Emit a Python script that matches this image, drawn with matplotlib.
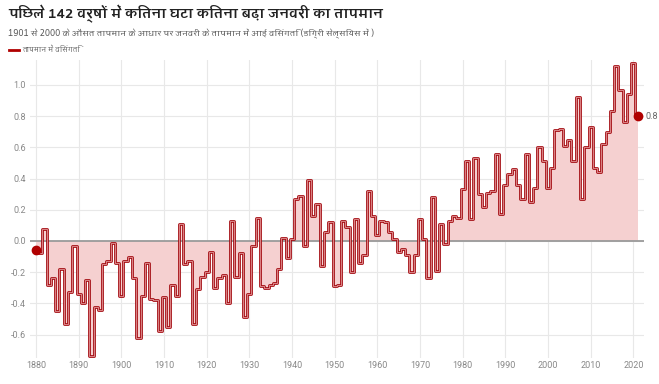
import numpy as np
import matplotlib
matplotlib.use("Agg")
import matplotlib.pyplot as plt
from matplotlib.lines import Line2D

# जनवरी तापमान विसंगति (1901-2000 औसत के सापेक्ष), 1880 से 2021
years = list(range(1880, 2022))
anomaly = [
    -0.06, -0.08, 0.08, -0.28, -0.24, -0.45, -0.18, -0.53, -0.33, -0.03,   # 1880s
    -0.34, -0.40, -0.25, -0.74, -0.42, -0.44, -0.15, -0.13, -0.01, -0.14,  # 1890s
    -0.35, -0.13, -0.10, -0.24, -0.62, -0.35, -0.14, -0.37, -0.38, -0.58,  # 1900s
    -0.36, -0.55, -0.28, -0.35, 0.11, -0.15, -0.13, -0.53, -0.31, -0.23,   # 1910s
    -0.20, -0.07, -0.30, -0.24, -0.22, -0.40, 0.13, -0.23, -0.08, -0.49,   # 1920s
    -0.34, -0.03, 0.15, -0.29, -0.30, -0.28, -0.27, -0.18, 0.02, -0.11,    # 1930s
    0.01, 0.27, 0.29, -0.03, 0.39, 0.16, 0.24, -0.16, 0.06, 0.12,          # 1940s
    -0.29, -0.28, 0.13, 0.09, -0.20, 0.14, -0.14, -0.09, 0.32, 0.16,       # 1950s
    0.04, 0.13, 0.12, 0.06, 0.01, -0.07, -0.05, -0.09, -0.20, -0.09,       # 1960s
    0.14, 0.01, -0.24, 0.28, -0.19, 0.11, -0.02, 0.13, 0.16, 0.15,         # 1970s
    0.33, 0.51, 0.14, 0.53, 0.30, 0.22, 0.31, 0.32, 0.56, 0.17,            # 1980s
    0.36, 0.43, 0.46, 0.36, 0.27, 0.56, 0.25, 0.34, 0.60, 0.51,            # 1990s
    0.34, 0.47, 0.71, 0.72, 0.61, 0.65, 0.51, 0.92, 0.27, 0.60,            # 2000s
    0.73, 0.47, 0.44, 0.62, 0.70, 0.83, 1.12, 0.97, 0.76, 0.94,            # 2010s
    1.14, 0.80,                                                            # 2020s
]
x_ticks = list(range(1880, 2021, 10))
y_ticks = [-0.6, -0.4, -0.2, 0.0, 0.2, 0.4, 0.6, 0.8, 1.0]

title = "पिछले 142 वर्षों में कितना घटा कितना बढ़ा जनवरी का तापमान"
subtitle = "1901 से 2000 के औसत तापमान के आधार पर जनवरी के तापमान में आई विसंगति (डिग्री सेल्सियस में )"
legend_label = "तापमान में विसंगति"

hindi = ["Amiko", "FreeSans", "DejaVu Sans"]
plt.rcParams["font.family"] = ["Roboto", "DejaVu Sans"]

red = "#a50f15"
fill_col = "#f5d0d0"
grey = "#888888"

fig = plt.figure(figsize=(6.59, 3.84), dpi=100)
ax = fig.add_axes([30 / 659, 26 / 384, 614 / 659, 298 / 384])

yrs = np.array(years)
vals = np.array(anomaly)

ax.fill_between(yrs, vals, 0, step="mid", color=fill_col, lw=0, zorder=1)
ax.axhline(0, color="#9a9a9a", lw=1.3, zorder=2)
ax.step(yrs, vals, where="mid", color=red, lw=2.0, zorder=3)
ax.step(yrs, vals, where="mid", color="#f0b4b4", lw=0.5, zorder=4)

# शुरुआत और अंत के बिंदु
ax.plot([yrs[0], yrs[-1]], [vals[0], vals[-1]], "o", color="#b00000",
        ms=6, zorder=5, clip_on=False)
ax.annotate(f"{vals[-1]:.1f}", (yrs[-1], vals[-1]), xytext=(6, 0),
            textcoords="offset points", va="center", ha="left",
            fontsize=6.5, color="#666666", annotation_clip=False)

ax.set_xlim(1878.6, 2022.5)
ax.set_ylim(-0.75, 1.16)
ax.set_xticks(x_ticks)
ax.set_yticks(y_ticks)
ax.set_yticklabels([f"{v:.1f}" for v in y_ticks])
ax.tick_params(length=0, labelsize=6.5, labelcolor=grey, pad=3)
ax.tick_params(axis="x", pad=2)
ax.grid(color="#e8e8e8", lw=0.8, zorder=0)
ax.set_axisbelow(True)
for s in ax.spines.values():
    s.set_visible(False)

# शीर्षक, उपशीर्षक और लेजेंड
t1 = fig.text(8 / 659, 1 - 14 / 384, title, fontsize=10, fontweight="bold",
              family=hindi, color="#222222", va="center", ha="left")
t2 = fig.text(8 / 659, 1 - 34 / 384, subtitle, fontsize=7, family=hindi,
              color="#555555", va="center", ha="left")
fig.add_artist(Line2D([9 / 659, 19 / 659], [1 - 50 / 384, 1 - 50 / 384],
                      color="#b00000", lw=2, transform=fig.transFigure))
t3 = fig.text(22 / 659, 1 - 50 / 384, legend_label, fontsize=5.5,
              family=hindi, color="#666666", va="center", ha="left")

# टेक्स्ट की चौड़ाई संदर्भ चित्र के बराबर करें
renderer = fig.canvas.get_renderer()
for t, target in [(t1, 375), (t2, 365), (t3, 58)]:
    w = t.get_window_extent(renderer).width
    t.set_fontsize(t.get_fontsize() * target / w)

fig.savefig("out.png", dpi=100)
